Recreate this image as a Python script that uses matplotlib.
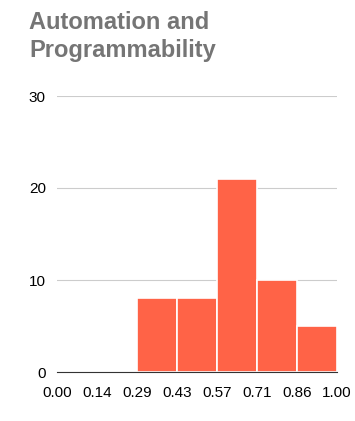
import matplotlib.pyplot as plt
import numpy as np

plt.rcParams['font.family'] = ['Liberation Sans', 'DejaVu Sans']

# границы интервалов и число значений в каждом
bin_edges = [0.0, 1/7, 2/7, 3/7, 4/7, 5/7, 6/7, 1.0]
counts = [0, 0, 8, 8, 21, 10, 5]
tick_labels = ["0.00", "0.14", "0.29", "0.43", "0.57", "0.71", "0.86", "1.00"]
title = "Automation and\nProgrammability"

fig = plt.figure(figsize=(3.55, 4.21), dpi=100)
ax = fig.add_axes([57/355, 1 - 372/421, 280/355, (372 - 96)/421])

edges = np.array(bin_edges)
widths = np.diff(edges)
ax.bar(edges[:-1], counts, width=widths, align='edge', color='#ff6347',
       edgecolor='white', linewidth=1.2, zorder=3)

ax.set_xlim(0, 1)
ax.set_ylim(0, 30)
ax.set_yticks([0, 10, 20, 30])
ax.set_xticks(bin_edges)
ax.set_xticklabels(tick_labels)
ax.tick_params(axis='both', length=0, labelsize=11, colors='black')
ax.tick_params(axis='y', pad=8)
ax.tick_params(axis='x', pad=10)
ax.grid(axis='y', color='#cccccc', linewidth=0.8, zorder=0)
for s in ['top', 'right', 'left']:
    ax.spines[s].set_visible(False)
ax.spines['bottom'].set_color('#333333')
ax.spines['bottom'].set_zorder(4)

fig.text(29/355, 1 - 11/421, title, ha='left', va='top', fontsize=17,
         fontweight='bold', color='#757575', linespacing=1.3)

fig.savefig('out.png', dpi=100)
